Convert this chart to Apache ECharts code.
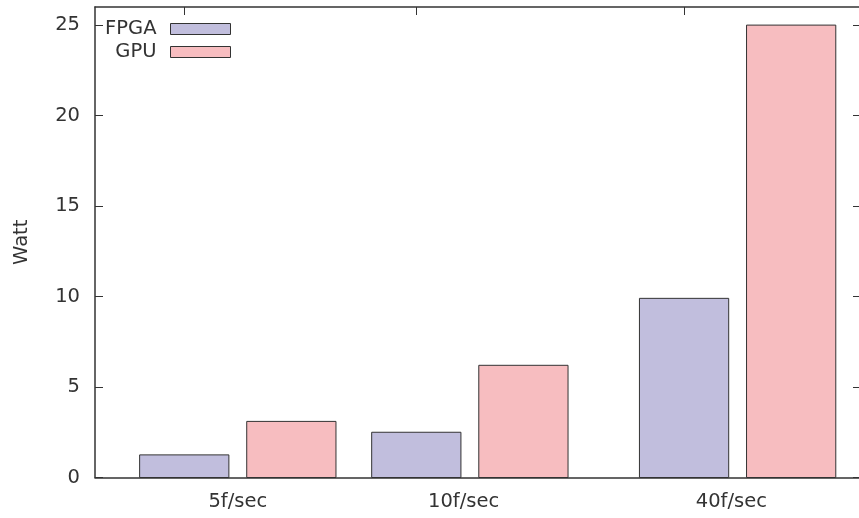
<!DOCTYPE html>
<html lang="en">
<head>
<meta charset="UTF-8">
<title>Watt</title>
<script src="https://cdn.jsdelivr.net/npm/echarts@6.0.0/dist/echarts.min.js"></script>
<style>
    html, body { margin: 0; padding: 0; background: #fff; }
    #chart { width: 859px; height: 518px; }
</style>
</head>
<body>
<div id="chart"></div>
<script>
    // data
    const categories = ['5f/sec', '10f/sec', '40f/sec'];
    const groupPos = [5, 18, 33];          // x of each group (FPGA bar centre, top ticks)
    const labelPos = [8, 20.65, 35.65];    // x of each category label
    const fpga = [1.25, 2.5, 9.9];
    const gpu = [3.1, 6.2, 25];
    const yTicks = [0, 5, 10, 15, 20, 25];

    const barW = 5;      // bar width in x units
    const gpuShift = 6;  // GPU bar sits this far right of FPGA bar
    const xMax = 42.8;   // right border sits just past the picture edge
    const font = 'DejaVu Sans';
    const fs = 19.5;
    const ink = '#333';

    const myChart = echarts.init(document.getElementById('chart'));

    function barSeries(name, values, shift, color) {
        return {
            name: name,
            type: 'custom',
            xAxisIndex: 0,
            yAxisIndex: 0,
            itemStyle: { color: color },
            data: values.map((v, i) => [groupPos[i] + shift, v]),
            renderItem: function (params, api) {
                const x = api.value(0), y = api.value(1);
                const p0 = api.coord([x - barW / 2, y]);
                const p1 = api.coord([x + barW / 2, 0]);
                return {
                    type: 'rect',
                    shape: { x: p0[0], y: p0[1], width: p1[0] - p0[0], height: p1[1] - p0[1] },
                    style: { fill: color, stroke: ink, lineWidth: 1 }
                };
            }
        };
    }

    function legendItem(name, color, top) {
        return {
            data: [{ name: name, icon: 'rect', itemStyle: { color: color, borderColor: ink, borderWidth: 1 } }],
            orient: 'vertical',
            align: 'right',
            right: 628,
            top: top,
            itemWidth: 60,
            itemHeight: 11,
            padding: 0,
            selectedMode: false,
            textStyle: { fontFamily: font, fontSize: fs, color: ink, padding: [0, 9, 0, 0] }
        };
    }

    const axisLine = { show: true, onZero: false, lineStyle: { color: ink, width: 1.5 } };

    const option = {
        animation: false,
        grid: { left: 95, right: 0, top: 7, bottom: 40.5 },
        legend: [
            legendItem('FPGA', '#c1bedd', 19),
            legendItem('GPU', '#f7bdc0', 42)
        ],
        xAxis: [{
            type: 'value',
            position: 'bottom',
            min: 0, max: xMax,
            axisLine: axisLine,
            splitLine: { show: false },
            axisTick: { show: false },
            axisLabel: {
                customValues: labelPos,
                formatter: v => categories[labelPos.indexOf(v)],
                fontFamily: font, fontSize: fs, color: ink, margin: 14
            }
        }, {
            type: 'value',
            position: 'top',
            min: 0, max: xMax,
            axisLine: axisLine,
            splitLine: { show: false },
            axisLabel: { show: false },
            axisTick: { show: true, inside: true, length: 8, customValues: groupPos, lineStyle: { color: ink } }
        }],
        yAxis: [{
            type: 'value',
            position: 'left',
            min: 0, max: 26, interval: 5,
            name: 'Watt',
            nameLocation: 'middle',
            nameGap: 63,
            nameTextStyle: { fontFamily: font, fontSize: fs, color: ink },
            axisLine: axisLine,
            splitLine: { show: false },
            axisTick: { inside: true, length: 8, customValues: yTicks, lineStyle: { color: ink } },
            axisLabel: {
                customValues: yTicks,
                fontFamily: font, fontSize: fs, color: ink, margin: 15
            }
        }, {
            type: 'value',
            position: 'right',
            min: 0, max: 26, interval: 5,
            axisLine: { show: false, onZero: false },
            splitLine: { show: false },
            axisTick: { show: true, inside: true, length: 6, customValues: yTicks, lineStyle: { color: ink } },
            axisLabel: { show: false }
        }],
        series: [
            barSeries('FPGA', fpga, 0, '#c1bedd'),
            barSeries('GPU', gpu, gpuShift, '#f7bdc0')
        ]
    };

    myChart.setOption(option);
</script>
</body>
</html>
